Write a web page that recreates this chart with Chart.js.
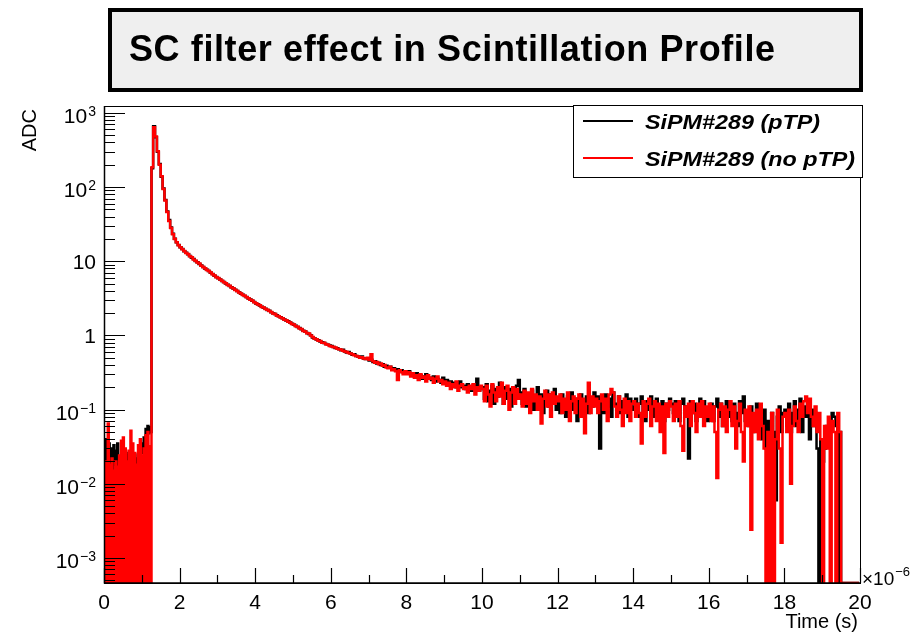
<!DOCTYPE html>
<html>
<head>
<meta charset="utf-8">
<script src="https://cdn.jsdelivr.net/npm/chart.js@4.4.1/dist/chart.umd.min.js"></script>
<style>
  html, body { margin: 0; padding: 0; background: #fff; }
</style>
</head>
<body>
<canvas id="c" width="920" height="633"></canvas>
<script>
// histogram of ADC vs time (x1e-6 s)
// pre-trigger part in 0.025 bins (0 - 1.25), the rest in 0.05 bins (1.25 - 20)
const PRE_BIN = 0.025, PRE_END = 1.25;
const BIN_W = 0.05;
const X_MIN = 0, X_MAX = 20;
const Y_MIN = 4.6e-4, Y_MAX = 1240;

const seriesNames = ['SiPM#289 (pTP)', 'SiPM#289 (no pTP)'];
const seriesColors = ['#000000', '#ff0000'];

const xTickValues = [0, 2, 4, 6, 8, 10, 12, 14, 16, 18, 20];
const yTickValues = [0.001, 0.01, 0.1, 1, 10, 100, 1000];
const yTickLabels = [['10', '−3'], ['10', '−2'], ['10', '−1'], ['1', ''], ['10', ''], ['10', '2'], ['10', '3']];

const pTPpre = [
  0.030, 0.012, 0.040, 0.008, 0.025, 0.035, 0.015, 0.030, 0.020, 0.010,
  0.033, 0.018, 0.028, 0.012, 0.035, 0.016, 0.022, 0.014, 0.020, 0.025,
  0.018, 0.022, 0.015, 0.026, 0.019, 0.024, 0.017, 0.021, 0.016, 0.023,
  0.020, 0.018, 0.025, 0, 0.022, 0.019, 0.024, 0.028, 0.020, 0.030,
  0.026, 0.035, 0.042, 0.030, 0.055, 0.040, 0.060, 0.048, 0.058, 0.050
];
const noPTPpre = [
  0.016, 0, 0.020, 0, 0.065, 0, 0.018, 0, 0.022, 0,
  0.015, 0, 0.020, 0, 0.017, 0, 0.024, 0, 0.038, 0,
  0.042, 0, 0.030, 0, 0.020, 0, 0.028, 0, 0.052, 0,
  0.035, 0, 0.026, 0, 0.018, 0, 0.033, 0, 0.040, 0,
  0.024, 0, 0.030, 0, 0.045, 0, 0.050, 0, 0.032, 0
];

// from 1.25 on, one row = 1e-6 s (20 bins)
const pTP = [
  180, 660, 470, 300, 205, 138, 96, 67, 47, 36, 28.5, 23.5, 20.2, 18.1, 16.6,
  15.4, 14.6, 13.7, 13.0, 12.4, 11.8, 11.2, 10.7, 10.1, 9.7, 9.2, 8.8, 8.4, 8.0, 7.7, 7.4, 7.0, 6.75, 6.4, 6.15,
  5.92, 5.70, 5.44, 5.25, 5.02, 4.82, 4.66, 4.45, 4.31, 4.12, 3.96, 3.82, 3.66, 3.55, 3.41, 3.30, 3.16, 3.05, 2.93, 2.82,
  2.70, 2.63, 2.54, 2.44, 2.37, 2.29, 2.21, 2.15, 2.06, 2.00, 1.94, 1.87, 1.81, 1.76, 1.70, 1.64, 1.59, 1.55, 1.49, 1.44,
  1.39, 1.35, 1.30, 1.26, 1.21, 1.16, 1.13, 1.08, 1.05, 1.01, 0.94, 0.91, 0.88, 0.86, 0.83, 0.81, 0.79, 0.77, 0.75, 0.73,
  0.72, 0.70, 0.68, 0.67, 0.65, 0.63, 0.64, 0.61, 0.59, 0.60, 0.57, 0.55, 0.56, 0.53, 0.52, 0.51, 0.52, 0.49, 0.48, 0.49,
  0.46, 0.47, 0.44, 0.45, 0.42, 0.43, 0.40, 0.41, 0.38, 0.39, 0.37, 0.38, 0.35, 0.36, 0.34, 0.35, 0.33, 0.34, 0.32, 0.33,
  0.31, 0.33, 0.29, 0.30, 0.28, 0.31, 0.27, 0.29, 0.26, 0.28, 0.30, 0.26, 0.27, 0.25, 0.28, 0.24, 0.26, 0.25, 0.23, 0.27,
  0.23, 0.25, 0.22, 0.24, 0.21, 0.23, 0.20, 0.22, 0.24, 0.20, 0.21, 0.19, 0.22, 0.20, 0.18, 0.21, 0.19, 0.26, 0.18, 0.19,
  0.20, 0.14, 0.22, 0.13, 0.18, 0.21, 0.12, 0.19, 0.15, 0.23, 0.16, 0.12, 0.20, 0.14, 0.19, 0.11, 0.18, 0.15, 0.21, 0.25,
  0.17, 0.12, 0.19, 0.11, 0.16, 0.13, 0.18, 0.10, 0.15, 0.20, 0.12, 0.16, 0.09, 0.15, 0.18, 0.11, 0.16, 0.13, 0.19, 0.10,
  0.14, 0.09, 0.16, 0.11, 0.08, 0.15, 0.12, 0.17, 0.10, 0.14, 0.07, 0.13, 0.16, 0.10, 0.12, 0.15, 0.09, 0.14, 0.11, 0.17,
  0.12, 0.15, 0.03, 0.13, 0.09, 0.16, 0.11, 0.14, 0.08, 0.17, 0.12, 0.10, 0.15, 0.09, 0.13, 0.11, 0.16, 0.08, 0.14, 0.10,
  0.11, 0.14, 0.08, 0.12, 0.15, 0.09, 0.07, 0.13, 0.10, 0.15, 0.08, 0.12, 0.14, 0.09, 0.11, 0.13, 0.07, 0.12, 0.10, 0.14,
  0.12, 0.09, 0.13, 0.10, 0.07, 0.12, 0.14, 0.08, 0.11, 0.022, 0.13, 0.09, 0.12, 0.07, 0.11, 0.14, 0.08, 0.13, 0.10, 0.07,
  0.10, 0.12, 0.07, 0.11, 0.14, 0.08, 0.12, 0.06, 0.10, 0.13, 0.08, 0.11, 0.07, 0.12, 0.09, 0.06, 0.13, 0.09, 0.15, 0.07,
  0.09, 0.06, 0.11, 0.05, 0.08, 0.12, 0.05, 0.09, 0.04, 0.10, 0.03, 0.07, 0.02, 0.09, 0.05, 0.006, 0.08, 0.11, 0.05, 0.09,
  0.10, 0.06, 0.12, 0.05, 0.09, 0.13, 0.06, 0.10, 0.14, 0.05, 0.11, 0.08, 0.12, 0.04, 0.10, 0.06, 0.09, 0.03, 0, 0.04,
  0.02, 0.03, 0.06, 0.04, 0.07, 0.09, 0.08, 0.06, 0, 0.05, 0, 0, 0, 0, 0, 0, 0, 0, 0, 0
];

const noPTP = [
  185, 640, 480, 305, 200, 140, 94, 66, 46, 35, 28, 23.2, 20, 18, 16.4,
  15.5, 14.5, 13.8, 12.9, 12.5, 11.7, 11.3, 10.6, 10.2, 9.6, 9.3, 8.7, 8.4, 8.05, 7.65, 7.4, 7.05, 6.7, 6.45, 6.1,
  5.95, 5.66, 5.47, 5.22, 5.05, 4.79, 4.68, 4.42, 4.33, 4.10, 3.98, 3.80, 3.68, 3.52, 3.43, 3.28, 3.18, 3.03, 2.95, 2.80,
  2.72, 2.61, 2.55, 2.42, 2.38, 2.27, 2.22, 2.13, 2.07, 1.98, 1.95, 1.85, 1.82, 1.74, 1.71, 1.63, 1.60, 1.53, 1.50, 1.43,
  1.40, 1.33, 1.31, 1.24, 1.22, 1.15, 1.13, 1.07, 1.06, 1.00, 0.95, 0.90, 0.89, 0.85, 0.84, 0.80, 0.80, 0.76, 0.75, 0.72,
  0.71, 0.70, 0.69, 0.66, 0.65, 0.64, 0.62, 0.61, 0.60, 0.58, 0.57, 0.56, 0.54, 0.53, 0.52, 0.50, 0.51, 0.49, 0.48, 0.50,
  0.47, 0.56, 0.45, 0.43, 0.44, 0.41, 0.42, 0.39, 0.40, 0.37, 0.36, 0.38, 0.34, 0.35, 0.33, 0.25, 0.34, 0.32, 0.30, 0.33,
  0.30, 0.32, 0.28, 0.31, 0.27, 0.29, 0.25, 0.30, 0.27, 0.28, 0.24, 0.29, 0.26, 0.27, 0.23, 0.26, 0.28, 0.24, 0.25, 0.22,
  0.24, 0.21, 0.23, 0.19, 0.22, 0.20, 0.24, 0.18, 0.21, 0.22, 0.19, 0.20, 0.17, 0.21, 0.19, 0.22, 0.16, 0.20, 0.18, 0.21,
  0.19, 0.13, 0.21, 0.16, 0.11, 0.22, 0.17, 0.13, 0.20, 0.15, 0.23, 0.12, 0.18, 0.21, 0.10, 0.17, 0.20, 0.12, 0.19, 0.14,
  0.16, 0.11, 0.18, 0.12, 0.17, 0.09, 0.19, 0.13, 0.16, 0.10, 0.15, 0.065, 0.14, 0.18, 0.11, 0.16, 0.08, 0.17, 0.12, 0.15,
  0.13, 0.16, 0.09, 0.14, 0.10, 0.17, 0.07, 0.13, 0.15, 0.09, 0.14, 0.16, 0.08, 0.14, 0.048, 0.12, 0.23, 0.09, 0.15, 0.11,
  0.14, 0.09, 0.13, 0.16, 0.10, 0.14, 0.07, 0.16, 0.19, 0.17, 0.11, 0.08, 0.15, 0.10, 0.06, 0.14, 0.09, 0.13, 0.07, 0.12,
  0.13, 0.08, 0.12, 0.09, 0.035, 0.13, 0.08, 0.12, 0.14, 0.06, 0.11, 0.13, 0.07, 0.12, 0.05, 0.11, 0.026, 0.12, 0.08, 0.13,
  0.11, 0.07, 0.12, 0.08, 0.13, 0.06, 0.028, 0.11, 0.08, 0.12, 0.06, 0.13, 0.09, 0.05, 0.12, 0.08, 0.13, 0.06, 0.11, 0.08,
  0.12, 0.07, 0.11, 0.05, 0.012, 0.10, 0.12, 0.06, 0.11, 0.05, 0.10, 0.13, 0.06, 0.11, 0.03, 0.07, 0.12, 0.05, 0.02, 0.10,
  0.06, 0.11, 0.0024, 0.09, 0.05, 0.10, 0.04, 0.12, 0.06, 0.03, 0, 0.05, 0, 0.09, 0, 0.04, 0.10, 0.03, 0.0016, 0.08,
  0.09, 0.05, 0.10, 0.01, 0.06, 0.11, 0.07, 0.05, 0.12, 0.08, 0.13, 0.15, 0.09, 0.14, 0.08, 0.06, 0.11, 0.05, 0.09, 0.04,
  0, 0.06, 0.03, 0.08, 0, 0.07, 0.05, 0, 0.09, 0.05, 0, 0, 0, 0, 0, 0, 0, 0, 0, 0
];

// empty bins sit on the x axis
function toPoints(pre, main) {
  const pts = pre.map((v, i) => ({ x: (i + 0.5) * PRE_BIN, y: v > 0 ? v : Y_MIN }));
  main.forEach((v, i) => pts.push({ x: PRE_END + (i + 0.5) * BIN_W, y: v > 0 ? v : Y_MIN }));
  return pts;
}

const FONT = '"Liberation Sans", Arial, Helvetica, sans-serif';

function txt(ctx, s, x, y, font, align, sx) {
  ctx.save();
  ctx.font = font;
  ctx.textAlign = align || 'left';
  ctx.textBaseline = 'alphabetic';
  ctx.translate(x, y);
  ctx.scale(sx || 1, 1);
  ctx.fillText(s, 0, 0);
  ctx.restore();
}

const rootStyle = {
  id: 'rootStyle',
  beforeDraw(chart) {
    const ctx = chart.ctx;
    ctx.save();
    ctx.fillStyle = '#fff';
    ctx.fillRect(0, 0, chart.width, chart.height);
    // title pave
    ctx.fillStyle = '#efefef';
    ctx.fillRect(110, 10, 751, 80);
    ctx.strokeStyle = '#000';
    ctx.lineWidth = 4;
    ctx.strokeRect(110, 10, 751, 80);
    ctx.fillStyle = '#000';
    const title = 'SC filter effect in Scintillation Profile';
    ctx.font = 'bold 36px ' + FONT;
    ctx.textAlign = 'left';
    const tw = ctx.measureText(title).width;
    ctx.letterSpacing = Math.max(0, (646 - tw) / (title.length - 1)).toFixed(2) + 'px';
    const sx = tw > 646 ? 646 / tw : 1;
    ctx.translate(129, 61);
    ctx.scale(sx, 1);
    ctx.fillText(title, 0, 0);
    ctx.restore();
  },
  afterDraw(chart) {
    const ctx = chart.ctx, a = chart.chartArea;
    const xs = chart.scales.x, ys = chart.scales.y;
    ctx.save();
    ctx.strokeStyle = '#000';
    ctx.fillStyle = '#000';
    ctx.lineWidth = 1;
    ctx.strokeRect(a.left + 0.5, a.top + 0.5, a.right - a.left, a.bottom - a.top);
    ctx.lineWidth = 1.5;
    ctx.beginPath();
    ctx.moveTo(a.left + 0.5, a.top);
    ctx.lineTo(a.left + 0.5, a.bottom);
    ctx.lineTo(a.right, a.bottom);
    ctx.stroke();

    // y ticks (inside)
    ctx.lineWidth = 1.2;
    ctx.beginPath();
    for (let e = -4; e <= 3; e++) {
      for (let k = 1; k <= 9; k++) {
        const v = k * Math.pow(10, e);
        if (v < Y_MIN || v > Y_MAX) continue;
        const y = Math.round(ys.getPixelForValue(v)) + 0.5;
        const len = k === 1 ? 21 : 11;
        ctx.moveTo(a.left, y);
        ctx.lineTo(a.left + len, y);
      }
    }
    // x ticks
    for (let t = X_MIN; t <= X_MAX; t++) {
      const x = Math.round(xs.getPixelForValue(t)) + 0.5;
      const len = t % 2 === 0 ? 15 : 8;
      ctx.moveTo(x, a.bottom);
      ctx.lineTo(x, a.bottom - len);
    }
    ctx.stroke();

    // y labels
    yTickValues.forEach((v, i) => {
      const y = ys.getPixelForValue(v);
      const [base, ex] = yTickLabels[i];
      ctx.font = '21px ' + FONT;
      const wb = ctx.measureText(base).width;
      ctx.font = '14px ' + FONT;
      const we = ex ? ctx.measureText(ex).width + 1 : 0;
      const right = 96;
      if (ex) {
        txt(ctx, base, right - we - wb, y + 10, '21px ' + FONT, 'left');
        txt(ctx, ex, right - we + 1, y + 3, '14px ' + FONT, 'left');
      } else {
        txt(ctx, base, right, y + 7.5, '21px ' + FONT, 'right');
      }
    });

    // x labels
    xTickValues.forEach(t => {
      txt(ctx, String(t), xs.getPixelForValue(t), 609, '21px ' + FONT, 'center');
    });
    txt(ctx, '×10', 862, 585, '19px ' + FONT, 'left');
    ctx.font = '19px ' + FONT;
    const w10 = ctx.measureText('×10').width;
    txt(ctx, '−6', 862 + w10 + 1, 576, '13px ' + FONT, 'left');
    txt(ctx, 'Time (s)', 858, 628, '20px ' + FONT, 'right');

    // y title
    ctx.save();
    ctx.translate(36, 109);
    ctx.rotate(-Math.PI / 2);
    txt(ctx, 'ADC', 0, 0, '20px ' + FONT, 'right');
    ctx.restore();

    // legend
    ctx.fillStyle = '#fff';
    ctx.fillRect(573, 105, 289, 72);
    ctx.lineWidth = 1;
    ctx.strokeStyle = '#000';
    ctx.strokeRect(573.5, 105.5, 289, 72);
    const lf = 'italic bold 21px ' + FONT;
    ctx.font = lf;
    const lsx = 175 / ctx.measureText(seriesNames[0]).width;
    const rows = [121, 158];
    seriesNames.forEach((name, i) => {
      ctx.strokeStyle = seriesColors[i];
      ctx.lineWidth = 2;
      ctx.beginPath();
      ctx.moveTo(583, rows[i]);
      ctx.lineTo(633, rows[i]);
      ctx.stroke();
      ctx.fillStyle = '#000';
      txt(ctx, name, 645, rows[i] + 7.5, lf, 'left', lsx);
    });
    ctx.restore();
  }
};

new Chart(document.getElementById('c'), {
  type: 'line',
  data: {
    datasets: [
      {
        label: seriesNames[0],
        data: toPoints(pTPpre, pTP),
        borderColor: seriesColors[0],
        borderWidth: 2.5,
        stepped: 'middle',
        pointRadius: 0,
        fill: false,
        order: 1
      },
      {
        label: seriesNames[1],
        data: toPoints(noPTPpre, noPTP),
        borderColor: seriesColors[1],
        borderWidth: 2.5,
        stepped: 'middle',
        pointRadius: 0,
        fill: false,
        order: 0
      }
    ]
  },
  options: {
    responsive: false,
    animation: false,
    devicePixelRatio: 1,
    layout: { padding: { left: 104, top: 106, right: 60, bottom: 50 } },
    plugins: { legend: { display: false }, tooltip: { enabled: false } },
    scales: {
      x: { type: 'linear', min: X_MIN, max: X_MAX, display: false },
      y: { type: 'logarithmic', min: Y_MIN, max: Y_MAX, display: false }
    }
  },
  plugins: [rootStyle]
});
</script>
</body>
</html>
